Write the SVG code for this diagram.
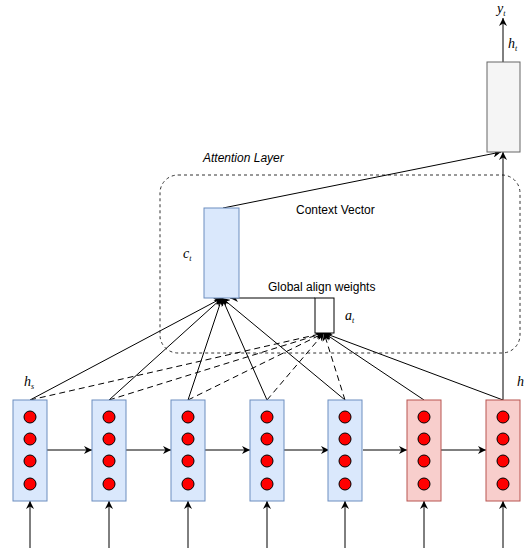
<svg xmlns="http://www.w3.org/2000/svg" width="524" height="550" viewBox="0 0 524 550">
<defs>
<marker id="arr" viewBox="0 0 10 10" refX="10" refY="5" markerWidth="8" markerHeight="8" orient="auto" markerUnits="userSpaceOnUse">
<path d="M0,0 L10,5 L0,10 L3,5 z" fill="#000"/>
</marker>
<style>
.enc{fill:#dae8fc;stroke:#6c8ebf;stroke-width:1}
.dec{fill:#f8cecc;stroke:#b85450;stroke-width:1}
.dot{fill:#ff0000;stroke:#000;stroke-width:1}
.ln{stroke:#000;stroke-width:1;fill:none}
.ar{stroke:#000;stroke-width:1;fill:none;marker-end:url(#arr)}
.da{stroke:#000;stroke-width:1;fill:none;stroke-dasharray:6 4;marker-end:url(#arr)}
.lbl{font-family:"Liberation Sans",Arial,sans-serif;font-size:12px;fill:#000}
.m{font-family:"Liberation Serif","Times New Roman",serif;font-style:italic;font-size:14px;fill:#000}
.sub{font-size:8px}
</style>
</defs>
<g id="attention-layer">
<rect x="160" y="175" width="360" height="178" rx="18" fill="none" stroke="#333" stroke-dasharray="3 3"/>
<text class="lbl" x="203" y="162" font-style="italic">Attention Layer</text>
</g>
<g id="connectors">
<line class="ar" x1="47" y1="450" x2="92" y2="450"/>
<line class="ar" x1="126" y1="450" x2="171" y2="450"/>
<line class="ar" x1="205" y1="450" x2="250" y2="450"/>
<line class="ar" x1="284" y1="450" x2="329" y2="450"/>
<line class="ar" x1="363" y1="450" x2="407" y2="450"/>
<line class="ar" x1="441" y1="450" x2="486" y2="450"/>
<line class="ar" x1="30" y1="548" x2="30" y2="501"/>
<line class="ar" x1="109" y1="548" x2="109" y2="501"/>
<line class="ar" x1="188" y1="548" x2="188" y2="501"/>
<line class="ar" x1="267" y1="548" x2="267" y2="501"/>
<line class="ar" x1="345" y1="548" x2="345" y2="501"/>
<line class="ar" x1="424" y1="548" x2="424" y2="501"/>
<line class="ar" x1="503" y1="548" x2="503" y2="501"/>
<line class="ar" x1="30" y1="400" x2="222" y2="298"/>
<line class="ar" x1="109" y1="400" x2="222" y2="298"/>
<line class="ar" x1="188" y1="400" x2="222" y2="298"/>
<line class="ar" x1="267" y1="400" x2="222" y2="298"/>
<line class="ar" x1="345" y1="400" x2="222" y2="298"/>
<line class="da" x1="30" y1="400" x2="324" y2="333"/>
<line class="da" x1="109" y1="400" x2="324" y2="333"/>
<line class="da" x1="188" y1="400" x2="324" y2="333"/>
<line class="da" x1="267" y1="400" x2="324" y2="333"/>
<line class="da" x1="345" y1="400" x2="324" y2="333"/>
<line class="ar" x1="424" y1="400" x2="324" y2="333"/>
<line class="ar" x1="503" y1="400" x2="324" y2="333"/>
<line class="ar" x1="315" y1="298" x2="230" y2="298"/>
<line class="ar" x1="223" y1="208" x2="501" y2="152"/>
<line class="ar" x1="503" y1="400" x2="503" y2="152"/>
<line class="ar" x1="503" y1="62" x2="503" y2="18"/>
</g>
<g id="enc1"><rect class="enc" x="13" y="400" width="34" height="101"/><circle class="dot" cx="30" cy="417" r="6"/><circle class="dot" cx="30" cy="439" r="6"/><circle class="dot" cx="30" cy="461" r="6"/><circle class="dot" cx="30" cy="484" r="6"/></g>
<g id="enc2"><rect class="enc" x="92" y="400" width="34" height="101"/><circle class="dot" cx="109" cy="417" r="6"/><circle class="dot" cx="109" cy="439" r="6"/><circle class="dot" cx="109" cy="461" r="6"/><circle class="dot" cx="109" cy="484" r="6"/></g>
<g id="enc3"><rect class="enc" x="171" y="400" width="34" height="101"/><circle class="dot" cx="188" cy="417" r="6"/><circle class="dot" cx="188" cy="439" r="6"/><circle class="dot" cx="188" cy="461" r="6"/><circle class="dot" cx="188" cy="484" r="6"/></g>
<g id="enc4"><rect class="enc" x="250" y="400" width="34" height="101"/><circle class="dot" cx="267" cy="417" r="6"/><circle class="dot" cx="267" cy="439" r="6"/><circle class="dot" cx="267" cy="461" r="6"/><circle class="dot" cx="267" cy="484" r="6"/></g>
<g id="enc5"><rect class="enc" x="328" y="400" width="34" height="101"/><circle class="dot" cx="345" cy="417" r="6"/><circle class="dot" cx="345" cy="439" r="6"/><circle class="dot" cx="345" cy="461" r="6"/><circle class="dot" cx="345" cy="484" r="6"/></g>
<g id="dec1"><rect class="dec" x="407" y="400" width="34" height="101"/><circle class="dot" cx="424" cy="417" r="6"/><circle class="dot" cx="424" cy="439" r="6"/><circle class="dot" cx="424" cy="461" r="6"/><circle class="dot" cx="424" cy="484" r="6"/></g>
<g id="dec2"><rect class="dec" x="486" y="400" width="34" height="101"/><circle class="dot" cx="503" cy="417" r="6"/><circle class="dot" cx="503" cy="439" r="6"/><circle class="dot" cx="503" cy="461" r="6"/><circle class="dot" cx="503" cy="484" r="6"/></g>
<g id="context-vector">
<rect x="204" y="208" width="35" height="90" fill="#dae8fc" stroke="#6c8ebf"/>
<text class="lbl" x="296" y="214">Context Vector</text>
<text class="m" x="183" y="258">c<tspan class="sub" dy="3">t</tspan></text>
</g>
<g id="align-weights">
<rect x="315" y="298" width="19" height="35" fill="#fff" stroke="#000"/>
<text class="lbl" x="268" y="291">Global align weights</text>
<text class="m" x="345" y="320">a<tspan class="sub" dy="3">t</tspan></text>
</g>
<g id="output">
<rect x="487" y="62" width="33" height="90" fill="#f5f5f5" stroke="#666"/>
<text class="m" x="497" y="13">y<tspan class="sub" dy="3">t</tspan></text>
<text class="m" x="508" y="48">h<tspan class="sub" dy="3">t</tspan></text>
</g>
<g id="labels">
<text class="m" x="24" y="386">h<tspan class="sub" dy="3">s</tspan></text>
<text class="m" x="517" y="386">h<tspan class="sub" dy="3">t</tspan></text>
</g>
</svg>
